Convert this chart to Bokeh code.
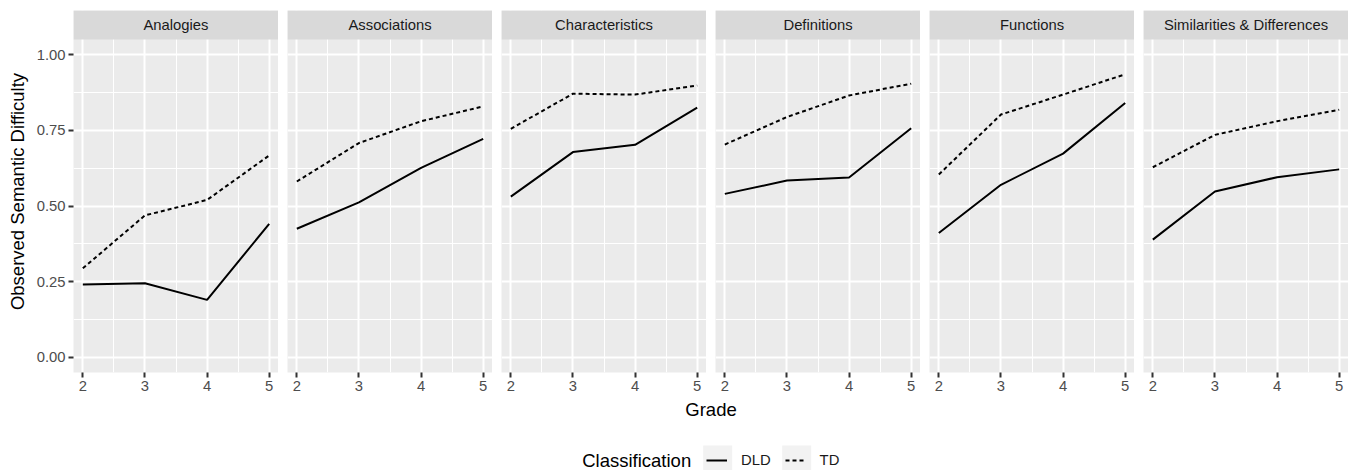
from bokeh.plotting import figure
from bokeh.models import Range1d, FixedTicker, BoxAnnotation, Label, Legend, LegendItem
from bokeh.layouts import row, column
from bokeh.embed import file_html
from bokeh.resources import INLINE

FONT = "Liberation Sans"

# ---------------- data ----------------
grades = [2, 3, 4, 5]
x_tick_labels = ["2", "3", "4", "5"]
x_minor = [2.5, 3.5, 4.5]
y_ticks = [0.0, 0.25, 0.5, 0.75, 1.0]
y_tick_labels = ["0.00", "0.25", "0.50", "0.75", "1.00"]
y_minor = [0.125, 0.375, 0.625, 0.875]

facets = ["Analogies", "Associations", "Characteristics", "Definitions",
          "Functions", "Similarities & Differences"]
classes = ["DLD", "TD"]

dld_analogies = [0.241, 0.245, 0.190, 0.441]
dld_associations = [0.425, 0.512, 0.626, 0.722]
dld_characteristics = [0.531, 0.678, 0.702, 0.825]
dld_definitions = [0.540, 0.584, 0.594, 0.757]
dld_functions = [0.411, 0.570, 0.673, 0.840]
dld_simdiff = [0.389, 0.548, 0.595, 0.621]

td_analogies = [0.294, 0.469, 0.520, 0.667]
td_associations = [0.581, 0.708, 0.780, 0.829]
td_characteristics = [0.755, 0.871, 0.868, 0.898]
td_definitions = [0.703, 0.794, 0.865, 0.904]
td_functions = [0.604, 0.802, 0.868, 0.935]
td_simdiff = [0.628, 0.735, 0.780, 0.818]

dld_series = [dld_analogies, dld_associations, dld_characteristics,
              dld_definitions, dld_functions, dld_simdiff]
td_series = [td_analogies, td_associations, td_characteristics,
             td_definitions, td_functions, td_simdiff]

# ---------------- layout constants ----------------
FRAME_W = 205
FRAME_H = 362
GAP = 9
LEFT = 73
TOP = 10
BOTTOM = 28
Y_LO, Y_HI = -0.05, 1.05
STRIP_PX = 29
y_top = Y_HI + STRIP_PX * (Y_HI - Y_LO) / (FRAME_H - STRIP_PX)
TD_DASH = "4 3"

panels = []
for i, (name, dld, td) in enumerate(zip(facets, dld_series, td_series)):
    first = (i == 0)
    p = figure(frame_width=FRAME_W, frame_height=FRAME_H,
               x_range=Range1d(1.85, 5.15), y_range=Range1d(Y_LO, y_top),
               output_backend="svg", toolbar_location=None,
               min_border_left=LEFT if first else 0, min_border_right=0,
               min_border_top=TOP, min_border_bottom=BOTTOM)
    p.background_fill_color = "#EBEBEB"
    p.border_fill_color = "white"
    p.outline_line_color = None

    p.xaxis.ticker = FixedTicker(ticks=grades, minor_ticks=x_minor)
    p.xaxis.major_label_overrides = {g: l for g, l in zip(grades, x_tick_labels)}
    p.yaxis.ticker = FixedTicker(ticks=y_ticks, minor_ticks=y_minor)
    p.yaxis.major_label_overrides = {t: l for t, l in zip(y_ticks, y_tick_labels)}

    for ax in (p.xaxis, p.yaxis):
        ax.axis_line_color = None
        ax.major_tick_line_color = "#333333"
        ax.major_tick_line_width = 2
        ax.major_tick_out = 5
        ax.major_tick_in = 0
        ax.minor_tick_line_color = None
        ax.major_label_text_font = FONT
        ax.major_label_text_font_size = "14.8px"
        ax.major_label_text_color = "#4D4D4D"
        ax.major_label_standoff = 3

    if first:
        p.yaxis.axis_label = "Observed Semantic Difficulty"
        p.yaxis.axis_label_text_font = FONT
        p.yaxis.axis_label_text_font_size = "18.5px"
        p.yaxis.axis_label_text_font_style = "normal"
        p.yaxis.axis_label_text_color = "black"
        p.yaxis.axis_label_standoff = 6
    else:
        p.yaxis.visible = False

    for g in (p.xgrid, p.ygrid):
        g.grid_line_color = "white"
        g.grid_line_width = 2
        g.minor_grid_line_color = "white"
        g.minor_grid_line_width = 1

    p.line(grades, dld, line_color="black", line_width=2)
    p.line(grades, td, line_color="black", line_width=2, line_dash=TD_DASH)

    p.add_layout(BoxAnnotation(bottom=Y_HI, fill_color="#D9D9D9", fill_alpha=1.0,
                               line_color=None))
    p.add_layout(Label(x=3.5, y=(Y_HI + y_top) / 2, text=name,
                       text_align="center", text_baseline="middle",
                       text_font=FONT, text_font_size="14.8px",
                       text_color="#1A1A1A"))
    panels.append(p)

TOTAL_W = LEFT + FRAME_W + (len(facets) - 1) * (FRAME_W + GAP)
BOT_H = 70

b = figure(frame_width=TOTAL_W, frame_height=BOT_H,
           x_range=Range1d(0, TOTAL_W), y_range=Range1d(0, BOT_H),
           x_axis_type=None, y_axis_type=None,
           output_backend="svg", toolbar_location=None,
           min_border_left=0, min_border_right=0, min_border_top=0, min_border_bottom=0)
b.outline_line_color = None
b.background_fill_color = "white"
b.xgrid.visible = False
b.ygrid.visible = False

# legend key backgrounds (drawn first, below the legend)
for left in (702.7, 781.7):
    b.add_layout(BoxAnnotation(left=left, right=left + 29, bottom=-5, top=25,
                               fill_color="#F2F2F2", fill_alpha=1.0, line_color=None,
                               level="glyph"))

panel_center = LEFT + (TOTAL_W - LEFT) / 2
b.add_layout(Label(x=panel_center, y=61, text="Grade", text_align="center",
                   text_baseline="middle", text_font=FONT, text_font_size="18.5px",
                   text_color="black"))
b.add_layout(Label(x=581.7, y=10, text="Classification", text_align="left",
                   text_baseline="middle", text_font=FONT, text_font_size="18.5px",
                   text_color="black"))

# legend proxies (no visible data)
nan_pair = [float("nan"), float("nan")]
r_dld = b.line(x=nan_pair, y=nan_pair, line_color="black", line_width=2)
r_td = b.line(x=nan_pair, y=nan_pair, line_color="black", line_width=2, line_dash=TD_DASH)
leg = Legend(items=[LegendItem(label=classes[0], renderers=[r_dld]),
                    LegendItem(label=classes[1], renderers=[r_td])],
             location=(706, 0), orientation="horizontal",
             glyph_width=21, glyph_height=20, label_standoff=14, spacing=14,
             padding=0, margin=0, border_line_alpha=0, background_fill_alpha=0,
             label_text_font=FONT, label_text_font_size="14.8px",
             label_text_color="#1A1A1A", label_height=20)
b.add_layout(leg)

layout = column(row(*panels, spacing=GAP), b, spacing=0)

open("out.html", "w").write(file_html(layout, INLINE))
